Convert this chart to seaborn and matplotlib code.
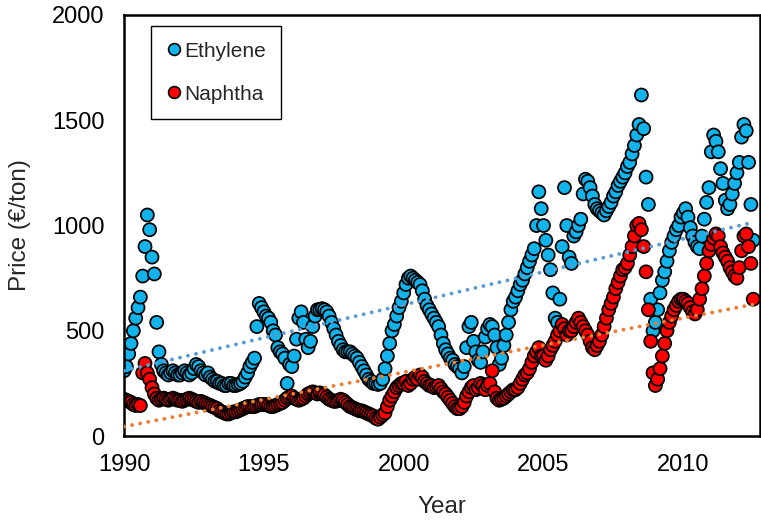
import numpy as np
import pandas as pd
import matplotlib
matplotlib.use("Agg")
import matplotlib.pyplot as plt
import seaborn as sns
from matplotlib.lines import Line2D

sns.set_theme(style="white")
plt.rcParams['font.family'] = ['Liberation Sans', 'DejaVu Sans']

# Monthly prices (EUR/ton), starting January 1990
ethylene = [
    310, 330, 390, 440, 500, 560, 610, 660, 760, 900, 1050, 980,      # 1990
    850, 770, 540, 400, 340, 310, 300, 290, 300, 310, 300, 290,       # 1991
    290, 300, 310, 300, 290, 300, 320, 340, 330, 310, 300, 290,       # 1992
    300, 280, 270, 260, 260, 250, 250, 240, 240, 250, 250, 240,       # 1993
    240, 245, 250, 260, 280, 300, 330, 350, 370, 520, 630, 610,       # 1994
    590, 570, 560, 540, 500, 480, 420, 400, 390, 370, 250, 340,       # 1995
    330, 380, 460, 560, 590, 540, 460, 420, 450, 520, 570, 600,       # 1996
    600, 605, 600, 590, 570, 540, 510, 480, 450, 430, 410, 400,       # 1997
    400, 400, 390, 380, 370, 350, 330, 310, 290, 270, 260, 250,       # 1998
    250, 245, 250, 270, 320, 380, 440, 500, 530, 570, 610, 640,       # 1999
    680, 720, 750, 760, 750, 740, 730, 720, 690, 650, 620, 600,       # 2000
    580, 560, 540, 520, 480, 440, 410, 390, 370, 360, 340, 330,       # 2001
    320, 300, 330, 420, 520, 540, 450, 400, 360, 350, 400, 470,       # 2002
    510, 530, 520, 480, 420, 340, 370, 430, 480, 540, 600, 640,       # 2003
    660, 690, 720, 740, 770, 800, 830, 860, 890, 1000, 1160, 1080,    # 2004
    1000, 930, 860, 790, 680, 560, 540, 650, 900, 1180, 1000, 850,    # 2005
    820, 950, 970, 1000, 1030, 1150, 1220, 1210, 1180, 1140, 1100, 1080,  # 2006
    1070, 1060, 1050, 1070, 1090, 1110, 1140, 1160, 1190, 1210, 1230, 1250,  # 2007
    1280, 1300, 1340, 1380, 1430, 1480, 1620, 1460, 1230, 1100, 650, 500,   # 2008
    540, 600, 680, 740, 780, 830, 880, 920, 950, 980, 1000, 1040,     # 2009
    1060, 1080, 1040, 990, 950, 920, 900, 890, 950, 1030, 1110, 1180,  # 2010
    1350, 1430, 1400, 1350, 1270, 1200, 1120, 1080, 1100, 1150, 1200, 1250,  # 2011
    1300, 1420, 1480, 1450, 1300, 1100, 930,                          # 2012
]
naphtha = [
    175, 170, 165, 160, 150, 145, 150, 145, 300, 345, 300, 270,       # 1990
    230, 200, 180, 170, 175, 180, 175, 170, 175, 180, 175, 170,       # 1991
    170, 165, 170, 175, 180, 175, 170, 165, 160, 165, 160, 155,       # 1992
    150, 145, 140, 135, 130, 120, 115, 110, 105, 105, 110, 115,       # 1993
    115, 120, 125, 130, 135, 140, 140, 140, 140, 145, 150, 150,       # 1994
    150, 150, 145, 140, 140, 145, 150, 155, 160, 170, 180, 185,       # 1995
    190, 180, 175, 170, 175, 180, 190, 200, 205, 210, 205, 200,       # 1996
    205, 200, 195, 185, 175, 170, 165, 165, 170, 175, 170, 160,       # 1997
    150, 140, 135, 130, 125, 120, 120, 115, 110, 105, 100, 95,        # 1998
    85, 80, 90, 100, 110, 140, 170, 190, 210, 230, 240, 250,          # 1999
    250, 260, 240, 250, 270, 280, 270, 290, 280, 260, 250, 240,       # 2000
    240, 230, 235, 240, 225, 210, 200, 185, 170, 155, 140, 130,       # 2001
    130, 140, 160, 190, 210, 230, 240, 220, 230, 250, 240, 220,       # 2002
    240, 250, 310, 210, 180, 170, 175, 180, 190, 200, 210, 220,       # 2003
    220, 230, 250, 270, 290, 300, 320, 350, 380, 400, 420, 380,       # 2004
    380, 360, 380, 410, 430, 450, 480, 500, 530, 510, 480, 500,       # 2005
    500, 520, 540, 560, 540, 520, 500, 480, 450, 420, 410, 430,       # 2006
    450, 480, 520, 560, 600, 630, 660, 700, 730, 760, 790, 800,       # 2007
    820, 860, 900, 950, 1000, 1010, 980, 900, 780, 600, 450, 300,     # 2008
    240, 270, 320, 380, 440, 500, 540, 570, 600, 620, 640, 650,       # 2009
    650, 640, 630, 610, 590, 580, 600, 650, 700, 760, 820, 880,       # 2010
    910, 940, 960, 950, 900, 870, 850, 830, 800, 780, 760, 750,       # 2011
    800, 880, 950, 960, 900, 820, 650,                                # 2012
]
start_year = 1990

# Linear trend lines (start / end of the dotted lines)
trend_years = [1990.0, 2012.5]
ethylene_trend = [310, 1015]
naphtha_trend = [45, 625]

series_names = ["Ethylene", "Naphtha"]
fill_colors = ["#12B2EA", "#FF0000"]
trend_colors = ["#5B9BD5", "#ED7D31"]
x_ticks = [1990, 1995, 2000, 2005, 2010]
y_ticks = [0, 500, 1000, 1500, 2000]

n = len(ethylene)
months = pd.date_range(f"{start_year}-01-01", periods=n, freq="MS")
t = (months.year + (months.month - 1) / 12).to_numpy(dtype=float)

df = pd.DataFrame({
    "Year": np.concatenate([t, t]),
    "Price": ethylene + naphtha,
    "Series": [series_names[0]] * n + [series_names[1]] * n,
})

fig = plt.figure(figsize=(7.61, 5.26), dpi=100)
ax = fig.add_axes([0.163, 0.171, 0.836, 0.8005])

sns.scatterplot(data=df, x="Year", y="Price", hue="Series",
                palette=dict(zip(series_names, fill_colors)),
                s=88, edgecolor="black", linewidth=1.25, ax=ax,
                legend=False, zorder=2)

trend_df = pd.DataFrame({
    "Year": trend_years * 2,
    "Price": ethylene_trend + naphtha_trend,
    "Series": [series_names[0]] * 2 + [series_names[1]] * 2,
})
for name, col in zip(series_names, trend_colors):
    sub = trend_df[trend_df["Series"] == name]
    sns.lineplot(data=sub, x="Year", y="Price", ax=ax, color=col,
                 linestyle=(0, (0.01, 2.1)), lw=2.8,
                 dash_capstyle="round", zorder=3, legend=False)

ax.set_xlim(1990, 2012.75)
ax.set_ylim(0, 2000)
ax.set_xticks(x_ticks)
ax.set_yticks(y_ticks)
ax.tick_params(axis="both", direction="in", length=6, width=1.3,
               labelsize=17, colors="black")
ax.tick_params(axis="x", pad=13)
ax.tick_params(axis="y", pad=14)
for sp in ax.spines.values():
    sp.set_visible(True)
    sp.set_color("black")
    sp.set_linewidth(1.8)

ax.set_xlabel("Year", fontsize=17.5, labelpad=14)
ax.set_ylabel("Price (€/ton)", fontsize=17.5, labelpad=15)

handles = [Line2D([], [], marker="o", ls="", markerfacecolor=c,
                  markeredgecolor="black", markeredgewidth=1.2, markersize=8.5)
           for c in fill_colors]
leg = ax.legend(handles, series_names, loc="upper left",
                bbox_to_anchor=(0.042, 0.974), borderaxespad=0,
                frameon=True, fancybox=False, edgecolor="black",
                fontsize=15, labelspacing=1.15, handletextpad=0.15,
                borderpad=0.75, handlelength=0.7, framealpha=1)
leg.get_frame().set_linewidth(1.0)

fig.savefig("out.png", dpi=100)
